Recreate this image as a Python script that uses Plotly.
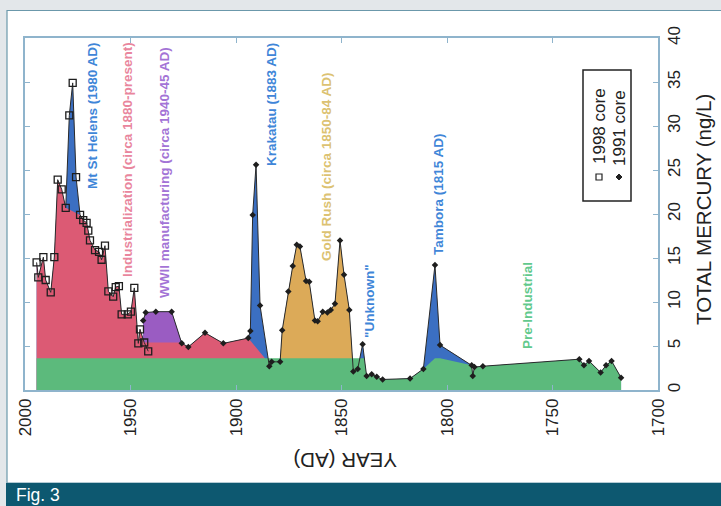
import plotly.graph_objects as go

# ---------------- data ----------------
core1998_years = [1994.5, 1993.7, 1991.3, 1990.2, 1987.8, 1986.1, 1984.5, 1982.6, 1980.7,
                  1979.0, 1977.4, 1975.8, 1973.9, 1972.4, 1970.8, 1970.0, 1969.2, 1966.8,
                  1964.9, 1963.7, 1962.1, 1960.5, 1958.2, 1957.0, 1955.5, 1954.2, 1951.3,
                  1949.8, 1948.2, 1946.3, 1945.5, 1943.5, 1941.6]
core1998_hg = [14.5, 12.8, 15.1, 12.5, 11.1, 15.1, 23.9, 22.8, 20.7,
               31.2, 34.9, 24.2, 19.9, 19.3, 19.0, 18.1, 17.0, 15.9,
               15.7, 14.8, 16.4, 11.2, 10.6, 11.7, 11.8, 8.6, 8.6,
               8.9, 11.6, 5.3, 6.9, 5.4, 4.4]

core1991_years = [1944.0, 1942.8, 1938.0, 1930.5, 1925.7, 1922.6, 1914.7, 1906.0, 1894.2,
                  1893.2, 1892.1, 1890.5, 1888.6, 1884.2, 1883.1, 1879.1, 1878.1, 1875.2,
                  1873.1, 1871.2, 1869.7, 1866.8, 1865.3, 1862.6, 1861.3, 1858.9, 1856.7,
                  1855.1, 1853.1, 1850.7, 1848.8, 1846.3, 1844.4, 1842.3, 1840.0, 1838.1,
                  1835.7, 1833.3, 1830.5, 1817.5, 1811.2, 1805.7, 1803.3, 1788.3, 1787.8,
                  1787.0, 1783.0, 1737.3, 1735.1, 1732.7, 1727.2, 1724.6, 1722.0, 1717.5]
core1991_hg = [7.9, 8.8, 8.9, 8.9, 5.3, 4.9, 6.5, 5.3, 5.9,
               6.7, 19.9, 25.6, 9.6, 2.7, 3.2, 3.2, 6.8, 11.2,
               14.1, 16.5, 16.3, 12.4, 12.3, 7.9, 7.8, 8.9, 8.8,
               9.1, 9.8, 17.0, 13.1, 9.1, 2.1, 2.4, 5.2, 1.6,
               1.8, 1.5, 1.2, 1.3, 2.4, 14.2, 5.1, 2.8, 1.6,
               2.6, 2.7, 3.5, 2.8, 3.3, 2.0, 2.8, 3.3, 1.4]

# region parameters
preindustrial_level = 3.6
preindustrial_flat_end = 1839.2
st_helens_spike_years = [1979.0, 1977.4, 1975.8]
wwii_floor_start, wwii_floor_end, wwii_floor = 1943.5, 1927.0, 5.4
krakatau_base_year = 1886.3
gold_rush_span = (1879.1, 1844.4)
wwii_span = (1944.0, 1925.7)
industrial_1991_span = (1925.7, 1894.2)

x_ticks = [2000, 1950, 1900, 1850, 1800, 1750, 1700]
y_ticks = [0, 5, 10, 15, 20, 25, 30, 35, 40]

labels = [
    ("Mt St Helens (1980 AD)", "#3f86d8", 93, 116),
    ("Industrialization (circa 1880-present)", "#e9869d", 127, 160),
    ("WWII manufacturing (circa 1940-45 AD)", "#a374d6", 164, 173),
    ("Krakatau (1883 AD)", "#3f86d8", 272, 105),
    ("Gold Rush (circa 1850-84 AD)", "#dcc272", 326, 167),
    ("\"Unknown\"", "#3f86d8", 369, 301),
    ("Tambora (1815 AD)", "#3f86d8", 438, 194),
    ("Pre-Industrial", "#62c98c", 527, 306),
]

# ---------------- colours ----------------
BLUE = "#3b6fc2"
PINK = "#dc5a74"
PURPLE = "#9a5cc2"
GOLD = "#dcaa58"
GREEN = "#5cba7c"
AXIS = "#8fb4cc"

# ---------------- derived region boundaries ----------------
pink_x, pink_y = [], []
for yr, v in zip(core1998_years, core1998_hg):
    if yr in st_helens_spike_years or yr < wwii_floor_start:
        continue
    pink_x.append(yr); pink_y.append(v)
pink_x.append(wwii_floor_end); pink_y.append(wwii_floor)
for yr, v in zip(core1991_years, core1991_hg):
    if industrial_1991_span[1] <= yr <= industrial_1991_span[0]:
        pink_x.append(yr); pink_y.append(v)
pink_x.append(krakatau_base_year); pink_y.append(preindustrial_level)

purple_x = [yr for yr in core1991_years if wwii_span[1] <= yr <= wwii_span[0]]
purple_y = [v for yr, v in zip(core1991_years, core1991_hg) if wwii_span[1] <= yr <= wwii_span[0]]

gold_x = [yr for yr in core1991_years if gold_rush_span[1] <= yr <= gold_rush_span[0]]
gold_y = [v for yr, v in zip(core1991_years, core1991_hg) if gold_rush_span[1] <= yr <= gold_rush_span[0]]

green_x = [core1998_years[0], preindustrial_flat_end]
green_y = [preindustrial_level, preindustrial_level]
for yr, v in zip(core1991_years, core1991_hg):
    if yr < preindustrial_flat_end:
        green_x.append(yr); green_y.append(min(v, preindustrial_level))

fig = go.Figure()


def area(xs, ys, color):
    fig.add_trace(go.Scatter(x=xs, y=ys, mode="none", fill="tozeroy", fillcolor=color,
                             hoverinfo="skip", showlegend=False))


area(core1998_years, core1998_hg, BLUE)
area(core1991_years, core1991_hg, BLUE)
area(purple_x, purple_y, PURPLE)
area(gold_x, gold_y, GOLD)
area(pink_x, pink_y, PINK)
area(green_x, green_y, GREEN)

fig.add_trace(go.Scatter(x=core1991_years, y=core1991_hg, mode="lines+markers",
                         line=dict(color="#2a2a2a", width=1),
                         marker=dict(symbol="diamond", size=5, color="#1e1e1e"),
                         showlegend=False))
fig.add_trace(go.Scatter(x=core1998_years, y=core1998_hg, mode="lines+markers",
                         line=dict(color="#2a2a2a", width=1),
                         marker=dict(symbol="square-open", size=7, color="#1e1e1e",
                                     line=dict(width=1.3)),
                         showlegend=False))

# ---------------- layout geometry ----------------
W, H = 721, 506
L, R, T, B = 25, 658, 38, 390


def px(x):
    return (x - L) / (R - L)


def py(y):
    return (B - y) / (B - T)


shapes = [
    dict(type="rect", xref="paper", yref="paper", x0=px(7), x1=px(722), y0=py(483), y1=py(10.5),
         fillcolor="white", line=dict(color="#6b98ab", width=1.2), layer="below"),
    dict(type="rect", xref="paper", yref="paper", x0=px(6), x1=px(722), y0=py(507), y1=py(483),
         fillcolor="#0d5870", line=dict(width=0), layer="below"),
    # legend box
    dict(type="rect", xref="paper", yref="paper", x0=px(583), x1=px(631), y0=py(201), y1=py(70),
         fillcolor="white", line=dict(color="#222222", width=1.5), layer="above"),
    dict(type="rect", xref="paper", yref="paper", x0=px(596), x1=px(602), y0=py(180), y1=py(174),
         fillcolor="white", line=dict(color="#222222", width=1.2), layer="above"),
    dict(type="path", xref="paper", yref="paper",
         path=f"M {px(619)},{py(174)} L {px(622)},{py(177)} L {px(619)},{py(180)} L {px(616)},{py(177)} Z",
         fillcolor="#222222", line=dict(color="#222222", width=1), layer="above"),
]

annotations = []
for text, color, xc, yc in labels:
    annotations.append(dict(xref="paper", yref="paper", x=px(xc), y=py(yc), text=f"<b>{text}</b>",
                            showarrow=False, textangle=-90, xanchor="center", yanchor="middle",
                            font=dict(family="Liberation Sans, Arial", size=13.5, color=color)))

annotations += [
    dict(xref="paper", yref="paper", x=px(599), y=py(126), text="1998 core", showarrow=False,
         textangle=-90, xanchor="center", yanchor="middle",
         font=dict(family="Liberation Sans, Arial", size=17, color="#222222")),
    dict(xref="paper", yref="paper", x=px(619), y=py(128), text="1991 core", showarrow=False,
         textangle=-90, xanchor="center", yanchor="middle",
         font=dict(family="Liberation Sans, Arial", size=17, color="#222222")),
    dict(xref="paper", yref="paper", x=px(703), y=py(210), text="TOTAL MERCURY (ng/L)",
         showarrow=False, textangle=-90, xanchor="center", yanchor="middle",
         font=dict(family="Liberation Sans, Arial", size=20.5, color="#222222")),
    dict(xref="paper", yref="paper", x=px(345), y=py(460), text="YEAR (AD)",
         showarrow=False, textangle=180, xanchor="center", yanchor="middle",
         font=dict(family="Liberation Sans, Arial", size=20.5, color="#222222")),
    dict(xref="paper", yref="paper", x=px(14), y=py(494.5), text="Fig. 3",
         showarrow=False, xanchor="left", yanchor="middle",
         font=dict(family="Liberation Sans, Arial", size=17.5, color="white")),
]

fig.update_layout(
    width=W, height=H,
    margin=dict(l=L, r=W - R, t=T, b=H - B, pad=0),
    paper_bgcolor="#e3e7ea",
    plot_bgcolor="white",
    shapes=shapes,
    annotations=annotations,
    showlegend=False,
    xaxis=dict(range=[2000, 1700], tickvals=x_ticks, ticktext=[str(v) for v in x_ticks],
               tickangle=-90, ticks="inside", ticklen=5, tickcolor=AXIS, tickwidth=1.3,
               showline=True, linecolor=AXIS, linewidth=1.5, mirror="ticks",
               showgrid=False, zeroline=False, automargin=False,
               tickfont=dict(family="Liberation Sans, Arial", size=17, color="#222222")),
    yaxis=dict(range=[0, 40], tickvals=y_ticks, side="right",
               tickangle=-90, ticks="inside", ticklen=5, tickcolor=AXIS, tickwidth=1.3,
               showline=True, linecolor=AXIS, linewidth=1.5, mirror="ticks",
               showgrid=False, zeroline=False, automargin=False,
               tickfont=dict(family="Liberation Sans, Arial", size=17, color="#222222")),
)

fig.write_html("out.html", config={"displayModeBar": False},
               post_script="document.body.style.margin='0';document.body.style.overflow='hidden';")
